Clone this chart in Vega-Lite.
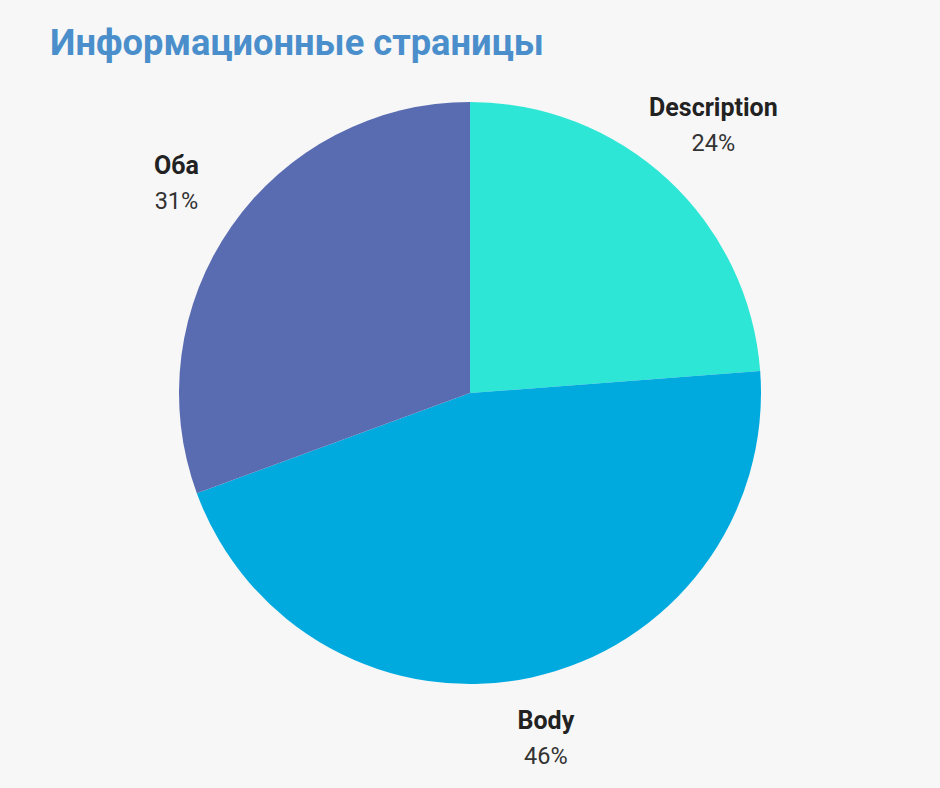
{
  "$schema": "https://vega.github.io/schema/vega-lite/v6.json",
  "width": 940,
  "height": 606,
  "autosize": "none",
  "padding": {"top": 90, "left": 0, "right": 0, "bottom": 92},
  "background": "#f7f7f7",
  "title": {
    "text": "Информационные страницы",
    "anchor": "start",
    "frame": "group",
    "dx": 50,
    "offset": -1,
    "baseline": "alphabetic",
    "font": "Roboto",
    "fontSize": 36.3,
    "fontWeight": "bold",
    "color": "#4a8fcb"
  },
  "config": {"view": {"stroke": null}},
  "data": {
    "values": [
      {"category": "Description", "value": 23.8, "pct": "24%", "ord": 1},
      {"category": "Body", "value": 45.6, "pct": "46%", "ord": 2},
      {"category": "Оба", "value": 30.6, "pct": "31%", "ord": 3}
    ]
  },
  "encoding": {
    "theta": {"field": "value", "type": "quantitative", "stack": true},
    "order": {"field": "ord", "type": "quantitative"}
  },
  "layer": [
    {
      "mark": {"type": "arc", "outerRadius": 291},
      "encoding": {
        "color": {
          "field": "category",
          "type": "nominal",
          "scale": {"domain": ["Description", "Body", "Оба"], "range": ["#2de6d5", "#00aadf", "#5a6cb1"]},
          "legend": null
        }
      }
    },
    {
      "mark": {"type": "text", "radius": 358, "dy": -22, "font": "Roboto", "fontSize": 25, "fontWeight": "bold", "color": "#222222"},
      "encoding": {"text": {"field": "category", "type": "nominal"}}
    },
    {
      "mark": {"type": "text", "radius": 358, "dy": 14, "font": "Roboto", "fontSize": 23.5, "color": "#333333"},
      "encoding": {"text": {"field": "pct", "type": "nominal"}}
    }
  ]
}
